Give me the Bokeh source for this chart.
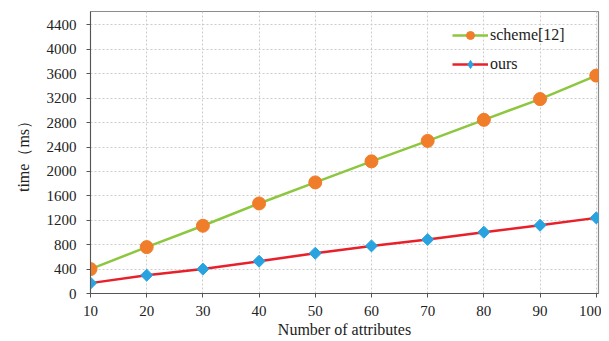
from bokeh.plotting import figure
from bokeh.models import Range1d, Legend, LegendItem, FixedTicker
from bokeh.embed import file_html
from bokeh.resources import INLINE

attributes = [10, 20, 30, 40, 50, 60, 70, 80, 90, 100]
scheme12 = [400, 760, 1110, 1475, 1820, 2165, 2500, 2845, 3185, 3570]
ours = [170, 300, 400, 529, 660, 780, 884, 1004, 1118, 1239]
y_ticks = [0, 400, 800, 1200, 1600, 2000, 2400, 2800, 3200, 3600, 4000, 4400]

FONT = "Liberation Serif"

p = figure(frame_width=508, frame_height=282, output_backend="svg", toolbar_location=None,
           x_range=Range1d(10, 100.4), y_range=Range1d(0, 4620),
           min_border_left=90, min_border_right=3, min_border_top=11, min_border_bottom=20)

p.outline_line_color = "#8c8c8c"
p.outline_line_width = 1.2

for ax in (p.xaxis[0], p.yaxis[0]):
    ax.major_label_text_font = FONT
    ax.major_label_text_font_size = "15px"
    ax.major_label_text_color = "#222222"
    ax.axis_label_text_font = FONT
    ax.axis_label_text_font_size = "16px"
    ax.axis_label_text_font_style = "normal"
    ax.axis_label_text_color = "#222222"
    ax.axis_line_color = "#555555"
    ax.major_tick_line_color = "#555555"
    ax.minor_tick_line_color = None
    ax.major_tick_in = 0
    ax.major_tick_out = 4

p.xaxis.ticker = FixedTicker(ticks=attributes)
p.yaxis.ticker = FixedTicker(ticks=y_ticks)
p.xaxis.axis_label = "Number of attributes"
p.yaxis.axis_label = "time（ms）"
p.xaxis.major_label_standoff = 8
p.yaxis.major_label_standoff = 10
p.xaxis.axis_label_standoff = 2
p.yaxis.axis_label_standoff = 12

p.xgrid.grid_line_color = "#cccccc"
p.xgrid.grid_line_dash = "2 2"
p.ygrid.grid_line_color = "#cccccc"
p.ygrid.grid_line_dash = "2 2"

l1 = p.line(attributes, scheme12, line_color="#8dc63f", line_width=2.5)
c1 = p.scatter(attributes, scheme12, marker="circle", size=13, fill_color="#f07d2a",
               line_color="#f07d2a")
l2 = p.line(attributes, ours, line_color="#e8202a", line_width=2.5)
# diamond key glyph (used by the legend), covered by the rotated squares below
c2_key = p.scatter(attributes, ours, marker="diamond", size=9,
                   fill_color="#29a3e0", line_color="#29a3e0")
c2 = p.scatter(attributes, ours, marker="square", size=8.5, angle=45, angle_units="deg",
               fill_color="#29a3e0", line_color="#29a3e0")

legend = Legend(items=[LegendItem(label="scheme[12]", renderers=[l1, c1]),
                       LegendItem(label="ours", renderers=[l2, c2_key])],
                location=(362, 219))
legend.border_line_color = None
legend.background_fill_alpha = 0
legend.label_text_font = FONT
legend.label_text_font_size = "16px"
legend.label_text_color = "#222222"
legend.glyph_width = 36
legend.glyph_height = 20
legend.spacing = 9
legend.label_standoff = 2
p.add_layout(legend)

open("out.html", "w").write(file_html(p, INLINE))
